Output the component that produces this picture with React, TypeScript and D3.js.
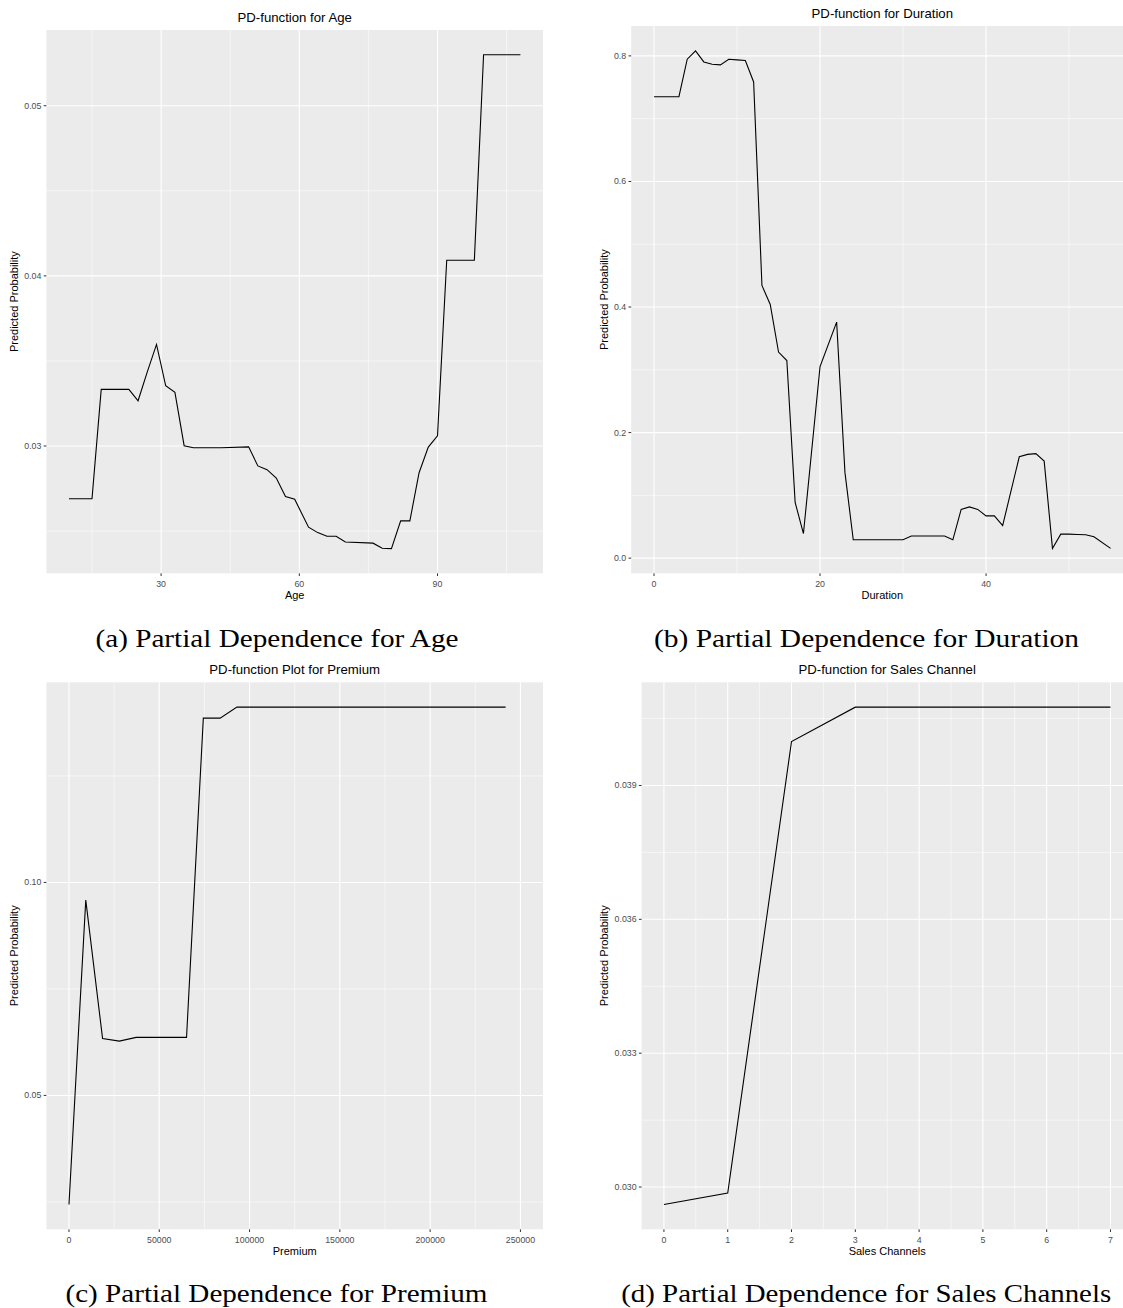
import React from "react";
import * as d3 from "d3";

// values
const ageX = [10, 15, 17, 23, 25, 27, 29, 31, 33, 35, 37, 43, 49, 51, 53, 55, 57, 59, 62, 64, 66, 68, 70, 76, 78, 80, 82, 84, 86, 88, 90, 92, 98, 100, 108];
const agePD = [0.0269, 0.0269, 0.03333, 0.03333, 0.03266, 0.03436, 0.03597, 0.03354, 0.03315, 0.03002,
  0.0299, 0.0299, 0.02995, 0.02883, 0.02861, 0.02812, 0.02703, 0.02687, 0.02523, 0.02491,
  0.0247, 0.0247, 0.02436, 0.02429, 0.02399, 0.02397, 0.0256, 0.0256, 0.02843, 0.02994,
  0.0306, 0.04092, 0.04092, 0.053, 0.053];

const durationX = [0, 3, 4, 5, 6, 7, 8, 9, 10, 11, 12, 13, 14, 15, 16, 17, 18, 20, 22, 23, 24, 30, 31, 35, 36, 37, 38, 39, 40, 41, 42, 44, 45, 46, 47, 48, 49, 50, 51, 52, 53, 55];
const durationPD = [0.735, 0.735, 0.7947, 0.808, 0.7904, 0.7868, 0.7857, 0.7947, 0.7936, 0.7926,
  0.7585, 0.4345, 0.404, 0.3282, 0.3148, 0.0887, 0.0392, 0.3052, 0.376, 0.1366,
  0.0292, 0.0292, 0.0352, 0.0352, 0.0292, 0.0776, 0.0817, 0.0776, 0.0673, 0.0673,
  0.0519, 0.1615, 0.1653, 0.1664, 0.1546, 0.0155, 0.0383, 0.0383, 0.0377, 0.0372,
  0.034, 0.0155];

const premiumX = [0, 9300, 18600, 27900, 37200, 65100, 74400, 83700, 93000, 241800];
const premiumPD = [0.02441, 0.09585, 0.06338, 0.06275, 0.06362, 0.06362, 0.13857, 0.13857, 0.14115, 0.14115];
const premiumRange = [0, 250000];

const channelX = [0, 1, 2, 3, 4, 5, 6, 7];
const channelPD = [0.02961, 0.029866, 0.039985, 0.040755, 0.040755, 0.040755, 0.040755, 0.040755];

// axis breaks
const ageXTicks = [30, 60, 90];
const ageYTicks = [0.03, 0.04, 0.05];
const durationXTicks = [0, 20, 40];
const durationYTicks = [0, 0.2, 0.4, 0.6, 0.8];
const premiumXTicks = [0, 50000, 100000, 150000, 200000, 250000];
const premiumYTicks = [0.05, 0.1];
const channelXTicks = [0, 1, 2, 3, 4, 5, 6, 7];
const channelYTicks = [0.03, 0.033, 0.036, 0.039];

const captions = [
  "(a) Partial Dependence for Age",
  "(b) Partial Dependence for Duration",
  "(c) Partial Dependence for Premium",
  "(d) Partial Dependence for Sales Channels",
];

const sans = "'Liberation Sans', Arial, sans-serif";

// ggplot style 5% padding
const expand = ([a, b]) => [a - 0.05 * (b - a), b + 0.05 * (b - a)];

// minor breaks sit half way between majors, one step past each end
const minors = (ticks, domain) => {
  const step = ticks[1] - ticks[0];
  const out = [];
  for (let v = ticks[0] - step / 2; v <= domain[1]; v += step) {
    if (v >= domain[0]) out.push(v);
  }
  return out;
};

const Panel = ({ box, title, xLabel, xs, ys, xTicks, yTicks, xFmt, yFmt, xRange, yTitleX }) => {
  const xDomain = expand(xRange || d3.extent(xs));
  const yDomain = expand(d3.extent(ys));
  const x = d3.scaleLinear().domain(xDomain).range([box.left, box.right]);
  const y = d3.scaleLinear().domain(yDomain).range([box.bottom, box.top]);
  const line = d3.line().x(d => x(d[0])).y(d => y(d[1]));
  const pts = xs.map((v, i) => [v, ys[i]]);
  const cx = (box.left + box.right) / 2;
  const cy = (box.top + box.bottom) / 2;

  return (
    <g>
      <rect x={box.left} y={box.top} width={box.right - box.left} height={box.bottom - box.top} fill="#EBEBEB" />
      {/* minor grid */}
      {minors(xTicks, xDomain).map(v => (
        <line key={"mx" + v} x1={x(v)} x2={x(v)} y1={box.top} y2={box.bottom} stroke="#fff" strokeWidth={0.55} />
      ))}
      {minors(yTicks, yDomain).map(v => (
        <line key={"my" + v} x1={box.left} x2={box.right} y1={y(v)} y2={y(v)} stroke="#fff" strokeWidth={0.55} />
      ))}
      {/* major grid */}
      {xTicks.map(v => (
        <line key={"gx" + v} x1={x(v)} x2={x(v)} y1={box.top} y2={box.bottom} stroke="#fff" strokeWidth={1.1} />
      ))}
      {yTicks.map(v => (
        <line key={"gy" + v} x1={box.left} x2={box.right} y1={y(v)} y2={y(v)} stroke="#fff" strokeWidth={1.1} />
      ))}
      <path d={line(pts)} fill="none" stroke="#000" strokeWidth={1.1} />

      {/* axes */}
      {xTicks.map(v => (
        <g key={"tx" + v}>
          <line x1={x(v)} x2={x(v)} y1={box.bottom} y2={box.bottom + 2.7} stroke="#333" strokeWidth={1} />
          <text x={x(v)} y={box.bottom + 13.4} textAnchor="middle" fontSize={8.8} fill="#4D4D4D" fontFamily={sans}>{xFmt(v)}</text>
        </g>
      ))}
      {yTicks.map(v => (
        <g key={"ty" + v}>
          <line x1={box.left - 2.7} x2={box.left} y1={y(v)} y2={y(v)} stroke="#333" strokeWidth={1} />
          <text x={box.left - 5} y={y(v)} dy="0.34em" textAnchor="end" fontSize={8.8} fill="#4D4D4D" fontFamily={sans}>{yFmt(v)}</text>
        </g>
      ))}
      <text x={cx} y={box.top - 8} textAnchor="middle" fontSize={13.2} fontFamily={sans}>{title}</text>
      <text x={cx} y={box.bottom + 26} textAnchor="middle" fontSize={11} fontFamily={sans}>{xLabel}</text>
      <text transform={`translate(${yTitleX},${cy}) rotate(-90)`} textAnchor="middle" fontSize={11} fontFamily={sans}>Predicted Probability</text>
    </g>
  );
};

const Caption = ({ text, cx, y, width }) => (
  <text x={cx} y={y} textAnchor="middle" fontSize={26} fontFamily="'Liberation Serif', 'Times New Roman', serif"
    textLength={width} lengthAdjust="spacingAndGlyphs">{text}</text>
);

export default function App() {
  const fmtInt = d3.format("d");
  return (
    <svg width={1123} height={1308} style={{ position: "absolute", left: 0, top: 0, background: "#fff" }}>
      <Panel box={{ left: 46.4, right: 543, top: 30, bottom: 573.3 }} title="PD-function for Age" xLabel="Age"
        xs={ageX} ys={agePD} xTicks={ageXTicks} yTicks={ageYTicks} xFmt={fmtInt} yFmt={d3.format(".2f")} yTitleX={18} />
      <Panel box={{ left: 631.2, right: 1133.4, top: 26, bottom: 573.3 }} title="PD-function for Duration" xLabel="Duration"
        xs={durationX} ys={durationPD} xTicks={durationXTicks} yTicks={durationYTicks} xFmt={fmtInt} yFmt={d3.format(".1f")} yTitleX={608} />
      <Panel box={{ left: 46.4, right: 543, top: 682.3, bottom: 1229.3 }} title="PD-function Plot for Premium" xLabel="Premium"
        xs={premiumX} ys={premiumPD} xTicks={premiumXTicks} yTicks={premiumYTicks} xFmt={fmtInt} yFmt={d3.format(".2f")}
        xRange={premiumRange} yTitleX={18} />
      <Panel box={{ left: 641.6, right: 1132.8, top: 682.3, bottom: 1229.3 }} title="PD-function for Sales Channel" xLabel="Sales Channels"
        xs={channelX} ys={channelPD} xTicks={channelXTicks} yTicks={channelYTicks} xFmt={fmtInt} yFmt={d3.format(".3f")} yTitleX={608} />

      <Caption text={captions[0]} cx={277} y={647} width={363} />
      <Caption text={captions[1]} cx={866.5} y={647} width={425} />
      <Caption text={captions[2]} cx={276.5} y={1302} width={422} />
      <Caption text={captions[3]} cx={866.2} y={1302} width={490} />
    </svg>
  );
}
